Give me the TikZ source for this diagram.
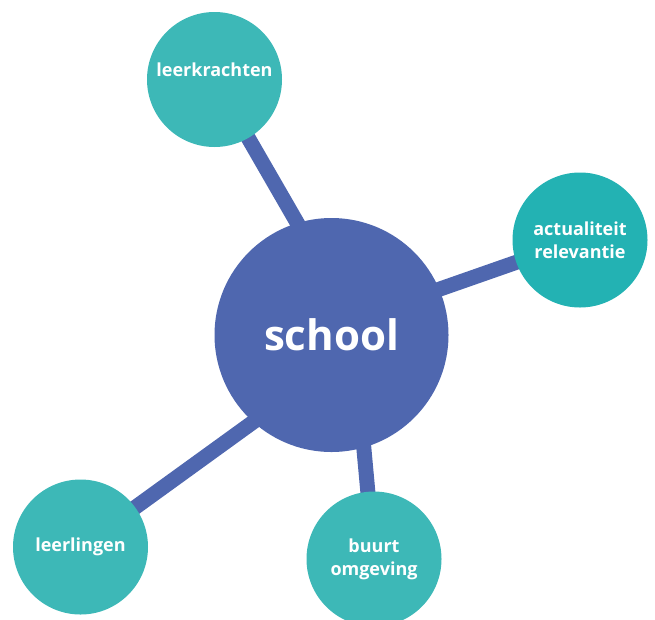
\documentclass[tikz,border=0pt]{standalone}
\usepackage{fontspec}
\setmainfont{Open Sans}
\definecolor{schoolblue}{RGB}{79, 103, 175}
\definecolor{teal1}{RGB}{61, 184, 183}
\definecolor{teal2}{RGB}{35, 178, 179}
\usetikzlibrary{backgrounds}

\begin{document}
\begin{tikzpicture}[x=1pt, y=-1pt,
  bubble/.style={circle, fill=#1, text=white, minimum size=135pt, inner sep=0pt, align=center, font=\fontsize{18}{23}\selectfont\bfseries},
  spoke/.style={draw=schoolblue, line width=15pt},
]
  \useasboundingbox (0,0) rectangle (655,619);
  \node[circle, fill=schoolblue, minimum size=234pt, inner sep=0pt, text=white, font=\fontsize{42}{50}\selectfont\bfseries] (school) at (331.5, 335) {school};
  \node[bubble=teal1, text depth=20pt] (lkr) at (214.5, 79.5) {leerkrachten};
  \node[bubble=teal2] (act) at (580, 240) {actualiteit\\relevantie};
  \node[bubble=teal1] (llg) at (80.5, 547) {leerlingen};
  \node[bubble=teal1] (buurt) at (374, 559) {buurt\\omgeving};
  \begin{scope}[on background layer]
    \draw[spoke, shorten >=-12pt] (lkr.center) -- (school.107);
    \draw[spoke, shorten >=-12pt] (act.center) -- (school.23);
    \draw[spoke, shorten >=-12pt] (llg.center) -- (school.228);
    \draw[spoke, shorten >=-12pt] (buurt.center) -- (school.286);
  \end{scope}
\end{tikzpicture}
\end{document}
